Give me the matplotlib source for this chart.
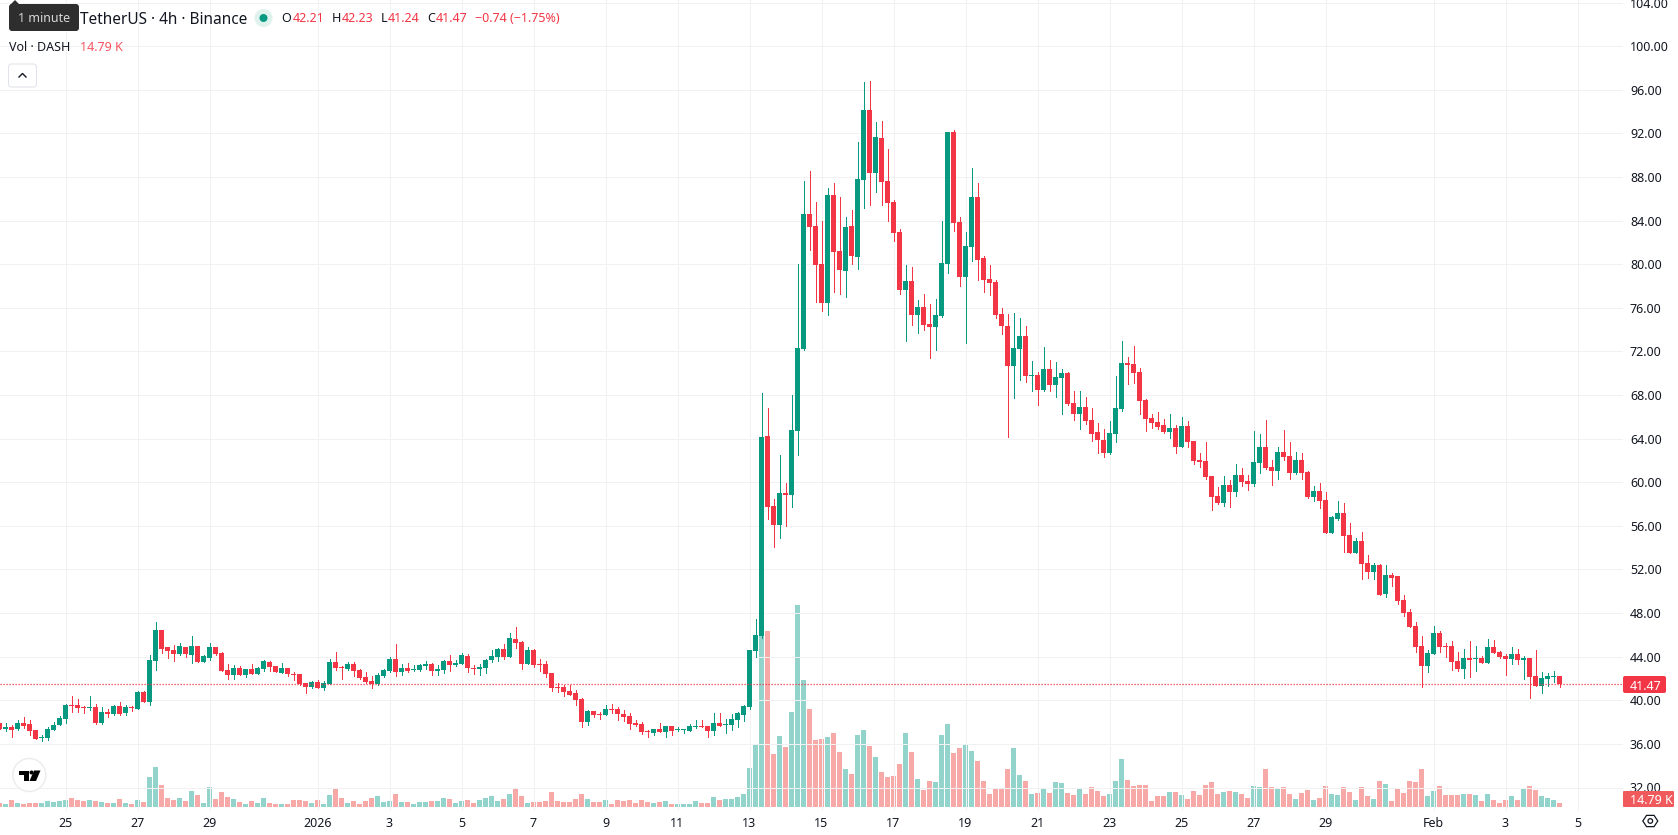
import matplotlib
matplotlib.use("Agg")
import matplotlib.pyplot as plt
import numpy as np
from matplotlib.lines import Line2D
from matplotlib.patches import Circle, FancyBboxPatch, Polygon, Rectangle

plt.rcParams["font.family"] = ["Noto Sans", "DejaVu Sans"]

# DASHUSDT 4h candles, first bar sits 11 bars left of the "25" tick
opens = [
    37.89, 37.40, 37.55, 37.37, 37.92, 37.83, 37.28, 36.57, 36.54, 37.28, 37.74,
    38.29, 39.57, 39.57, 39.42, 39.30, 39.39, 37.89, 38.93, 38.75, 39.48,
    38.84, 39.39, 39.20, 40.76, 39.85, 43.60, 46.45, 44.89, 44.62, 44.25,
    44.89, 44.16, 44.98, 43.52, 43.88, 44.89, 44.34, 42.78, 42.32, 42.97,
    42.32, 42.87, 42.42, 42.87, 43.52, 43.15, 42.51, 42.97, 42.42, 42.42,
    41.56, 41.22, 41.68, 41.13, 41.50, 43.52, 43.09, 42.87, 43.33, 42.78,
    42.14, 41.77, 41.50, 42.23, 42.69, 43.79, 42.60, 42.97, 42.78, 42.78,
    43.15, 43.33, 42.69, 42.78, 43.60, 43.24, 43.33, 44.07, 43.00, 42.87,
    42.97, 43.70, 43.98, 44.71, 43.98, 45.63, 45.35, 43.33, 44.62, 43.33,
    43.33, 42.51, 41.22, 41.22, 40.86, 40.67, 40.12, 38.01, 39.02, 38.78,
    38.65, 39.20, 39.20, 38.75, 38.56, 37.92, 37.83, 37.19, 37.00, 37.37,
    37.09, 37.65, 37.31, 37.28, 37.19, 37.55, 37.65, 37.65, 37.19, 37.92,
    37.77, 37.74, 38.20, 38.65, 39.39, 44.53, 45.90, 64.25, 57.83, 56.08,
    59.02, 58.84, 64.70, 72.23, 84.61, 83.51, 80.03, 76.45, 86.36, 81.22,
    79.38, 83.50, 80.67, 87.73, 94.15, 88.37, 91.58, 87.64, 85.71, 82.96,
    77.64, 78.47, 75.35, 76.08, 74.52, 74.25, 75.26, 80.03, 92.14, 83.88,
    78.84, 81.59, 86.17, 80.57, 78.65, 78.37, 75.44, 74.34, 70.67, 72.23,
    73.42, 69.75, 69.84, 68.46, 70.39, 68.92, 69.57, 70.03, 67.27, 66.27,
    66.90, 65.71, 64.61, 63.87, 62.68, 64.43, 66.72, 70.94, 70.85, 70.12,
    67.55, 65.89, 65.52, 65.25, 64.61, 64.98, 63.23, 65.16, 63.78, 62.04,
    61.95, 60.57, 58.74, 58.10, 59.75, 59.11, 60.66, 60.11, 59.84, 61.77,
    63.23, 61.40, 61.04, 62.78, 62.41, 60.85, 62.04, 60.94, 58.65, 59.20,
    58.38, 55.35, 56.64, 57.19, 55.16, 53.51, 54.61, 52.60, 51.77, 52.41,
    49.75, 51.50, 51.40, 49.20, 48.10, 46.82, 44.98, 43.15, 44.25, 46.17,
    44.98, 44.98, 43.60, 42.87, 43.88, 43.79, 43.88, 43.42, 44.89, 44.43,
    44.06, 43.79, 44.25, 43.70, 43.88, 42.23, 41.31, 41.95, 42.14, 42.21,
]
closes = [
    37.40, 37.55, 37.31, 37.92, 37.65, 37.19, 36.45, 36.64, 37.37, 37.74, 38.38,
    39.57, 39.48, 39.30, 39.33, 39.36, 37.89, 38.93, 38.75, 39.48, 38.75,
    39.39, 39.27, 40.76, 39.85, 43.70, 46.45, 44.70, 44.53, 44.25, 44.98,
    44.25, 44.98, 43.52, 44.07, 44.89, 44.25, 42.69, 42.32, 42.97, 42.32,
    42.87, 42.42, 42.97, 43.60, 43.06, 42.60, 42.97, 42.42, 42.35, 41.50,
    41.22, 41.68, 41.13, 41.56, 43.52, 42.97, 43.00, 43.33, 42.69, 42.05,
    41.68, 41.50, 42.32, 42.78, 43.79, 42.60, 42.97, 42.66, 42.87, 43.24,
    43.33, 42.69, 42.87, 43.60, 43.24, 43.42, 44.16, 42.97, 42.90, 43.06,
    43.70, 44.07, 44.71, 43.98, 45.72, 45.26, 43.33, 44.62, 43.24, 43.24,
    42.42, 41.13, 41.16, 40.76, 40.49, 40.03, 38.01, 39.02, 38.65, 38.68,
    39.20, 39.14, 38.75, 38.47, 37.83, 37.74, 37.09, 37.09, 37.37, 37.09,
    37.65, 37.19, 37.40, 37.37, 37.65, 37.65, 37.55, 37.19, 37.92, 37.65,
    37.83, 38.29, 38.84, 39.48, 44.62, 45.99, 64.15, 57.73, 56.08, 59.02,
    58.84, 64.80, 72.31, 84.61, 83.42, 79.93, 76.45, 86.36, 81.13, 79.47,
    83.41, 80.76, 87.82, 94.15, 88.37, 91.68, 87.55, 85.62, 82.87, 77.64,
    78.47, 75.35, 76.08, 74.43, 74.25, 75.35, 80.12, 92.14, 83.79, 78.84,
    81.68, 86.17, 80.39, 78.55, 78.28, 75.35, 74.34, 70.67, 72.31, 73.42,
    69.75, 69.84, 68.46, 70.39, 68.92, 69.66, 70.03, 67.18, 66.27, 66.90,
    65.62, 64.43, 63.87, 62.68, 64.52, 66.81, 70.94, 70.76, 70.03, 67.46,
    65.80, 65.43, 65.07, 64.61, 64.98, 63.23, 65.16, 63.69, 61.95, 61.86,
    60.48, 58.65, 58.10, 59.75, 59.11, 60.66, 60.02, 59.84, 61.86, 63.23,
    61.31, 61.04, 62.78, 62.32, 60.85, 62.04, 60.85, 58.65, 59.20, 58.28,
    55.35, 56.82, 57.19, 55.07, 53.51, 54.61, 52.50, 51.77, 52.41, 49.66,
    51.50, 51.22, 49.11, 48.01, 46.72, 44.89, 43.15, 44.34, 46.17, 44.89,
    44.89, 43.51, 42.87, 43.88, 43.70, 43.88, 43.42, 44.89, 44.34, 43.97,
    43.79, 44.25, 43.70, 43.88, 42.14, 41.31, 42.05, 42.23, 42.23, 41.47,
]
highs = [
    37.90, 37.89, 37.70, 38.17, 38.47, 38.20, 37.30, 36.82, 37.55, 38.01, 38.56,
    39.66, 40.40, 40.12, 39.48, 40.40, 39.66, 39.39, 39.20, 39.57, 39.85,
    39.57, 39.48, 40.86, 40.86, 44.16, 47.19, 46.45, 44.89, 45.08, 45.26,
    44.89, 45.90, 44.98, 44.16, 45.26, 44.89, 44.43, 43.33, 43.24, 43.15,
    42.88, 43.33, 43.06, 43.70, 43.60, 43.15, 43.42, 42.97, 42.60, 42.42,
    41.56, 41.77, 41.87, 41.77, 43.79, 44.43, 43.15, 43.52, 43.52, 42.87,
    42.60, 42.23, 42.51, 42.87, 43.98, 45.17, 43.33, 43.42, 43.24, 43.33,
    43.60, 43.42, 43.24, 43.70, 44.16, 43.70, 44.34, 44.25, 43.24, 43.33,
    43.79, 44.62, 44.80, 45.17, 46.18, 46.73, 45.44, 44.89, 44.71, 43.79,
    43.60, 42.51, 41.59, 41.41, 41.41, 40.95, 40.21, 39.11, 39.02, 38.93,
    39.57, 39.66, 39.39, 39.11, 38.84, 38.20, 38.01, 37.28, 37.38, 37.92,
    37.66, 37.66, 37.55, 37.38, 37.83, 38.20, 38.20, 37.66, 38.84, 38.84,
    38.29, 38.75, 38.93, 39.57, 44.63, 47.46, 68.19, 66.81, 58.46, 62.50,
    59.93, 68.00, 80.03, 87.64, 88.56, 85.71, 83.96, 87.00, 87.46, 86.17,
    84.33, 84.98, 91.21, 96.72, 96.81, 93.05, 93.14, 90.57, 85.90, 83.24,
    79.93, 79.75, 76.72, 77.27, 76.36, 76.82, 83.96, 92.15, 92.32, 84.33,
    82.96, 88.83, 87.46, 80.75, 79.93, 78.55, 75.98, 75.44, 75.53, 75.06,
    74.34, 71.10, 70.11, 72.41, 71.21, 71.03, 70.39, 70.12, 68.37, 68.37,
    67.82, 66.81, 65.43, 64.89, 65.62, 69.75, 72.96, 71.49, 72.50, 70.48,
    67.64, 66.27, 66.45, 65.80, 66.27, 65.25, 65.98, 65.62, 63.79, 62.69,
    63.69, 60.58, 59.57, 60.57, 60.21, 61.68, 61.31, 60.66, 64.70, 64.43,
    65.71, 62.04, 63.23, 64.80, 63.70, 62.78, 62.69, 61.03, 59.66, 59.93,
    59.11, 56.91, 58.28, 58.10, 56.26, 54.89, 55.44, 53.33, 52.60, 52.50,
    52.41, 51.68, 51.41, 49.66, 48.38, 47.18, 45.90, 44.61, 46.82, 46.36,
    45.26, 45.44, 44.43, 44.70, 45.44, 44.98, 44.07, 45.62, 45.53, 44.52,
    44.25, 44.89, 44.70, 44.07, 43.89, 44.61, 42.60, 42.51, 42.69, 42.23,
]
lows = [
    37.39, 37.20, 36.64, 37.28, 37.49, 36.82, 36.43, 36.27, 36.36, 37.27, 37.73,
    37.92, 38.93, 38.93, 38.84, 39.11, 37.83, 37.83, 38.47, 38.65, 38.65,
    38.65, 39.02, 39.20, 39.85, 39.57, 42.78, 44.34, 43.88, 43.60, 44.16,
    43.98, 43.42, 43.50, 43.50, 43.70, 44.16, 42.68, 41.96, 41.96, 42.31,
    42.14, 42.41, 42.41, 42.69, 42.69, 42.58, 42.50, 42.23, 41.87, 41.41,
    40.67, 41.13, 41.12, 40.95, 41.49, 42.78, 41.96, 42.78, 42.23, 41.96,
    41.59, 41.13, 41.41, 42.14, 42.60, 42.23, 42.32, 42.60, 42.69, 42.69,
    42.87, 42.32, 42.32, 42.51, 42.69, 43.15, 43.32, 42.60, 42.42, 42.32,
    42.51, 43.52, 43.60, 43.79, 43.97, 44.80, 42.87, 43.32, 43.06, 42.69,
    42.14, 40.86, 40.76, 40.40, 40.48, 39.57, 37.55, 37.74, 38.47, 38.29,
    38.64, 38.84, 38.20, 38.10, 37.37, 37.65, 36.91, 36.64, 36.82, 37.08,
    36.64, 36.82, 37.19, 37.00, 37.18, 37.46, 37.54, 36.64, 36.82, 37.64,
    37.00, 37.28, 37.55, 38.10, 39.20, 43.98, 45.72, 56.63, 54.06, 54.89,
    56.00, 57.73, 62.50, 72.14, 81.31, 76.54, 75.71, 75.35, 77.45, 77.27,
    77.00, 80.03, 79.56, 85.16, 85.44, 86.63, 85.44, 83.96, 82.13, 77.27,
    72.96, 74.43, 73.70, 73.97, 71.40, 72.13, 75.16, 79.20, 83.05, 78.00,
    72.78, 80.30, 78.55, 77.45, 77.18, 75.07, 73.61, 64.15, 67.73, 69.38,
    69.20, 68.37, 67.09, 68.37, 68.37, 67.83, 66.27, 67.09, 65.71, 64.89,
    65.34, 63.78, 62.69, 62.32, 62.59, 63.69, 66.54, 69.02, 69.10, 66.27,
    64.70, 64.98, 64.89, 64.52, 64.07, 62.69, 63.22, 63.23, 61.68, 61.40,
    60.30, 57.45, 58.00, 57.82, 57.73, 58.74, 59.66, 59.29, 59.66, 60.85,
    61.22, 59.75, 60.30, 62.04, 60.30, 60.76, 60.30, 58.56, 58.28, 57.64,
    55.34, 55.34, 56.54, 53.60, 53.50, 53.50, 51.13, 51.22, 51.13, 49.65,
    49.48, 50.49, 48.83, 47.74, 46.71, 44.43, 41.22, 42.60, 44.24, 44.43,
    43.97, 42.78, 42.69, 42.05, 42.14, 42.69, 43.41, 43.41, 44.33, 43.88,
    42.32, 43.33, 43.33, 41.95, 40.21, 41.30, 40.67, 41.31, 41.68, 41.24,
]
# volume in thousands of DASH
volumes = [
    14.1, 10.6, 24.7, 14.1, 10.6, 14.1, 14.1, 14.1, 21.1, 17.6, 21.1,
    24.7, 31.7, 24.7, 21.1, 24.7, 21.1, 17.6, 14.1, 14.1, 28.2,
    14.1, 10.6, 24.7, 17.6, 105.7, 140.9, 77.5, 31.7, 24.7, 31.7,
    21.1, 56.4, 42.3, 14.1, 70.4, 28.2, 52.8, 35.2, 28.2, 17.6,
    10.6, 21.1, 14.1, 31.7, 14.1, 10.6, 10.6, 10.6, 24.7, 24.7,
    21.1, 14.1, 24.7, 10.6, 42.3, 63.4, 31.7, 14.1, 21.1, 10.6,
    21.1, 31.7, 38.7, 17.6, 21.1, 45.8, 17.6, 17.6, 10.6, 17.6,
    17.6, 21.1, 21.1, 31.7, 28.2, 14.1, 21.1, 24.7, 14.1, 24.7,
    31.7, 38.7, 21.1, 28.2, 45.8, 63.4, 38.7, 14.1, 17.6, 17.6,
    21.1, 52.8, 21.1, 17.6, 17.6, 28.2, 45.8, 28.2, 17.6, 17.6,
    24.7, 10.6, 24.7, 21.1, 24.7, 14.1, 24.7, 17.6, 14.1, 17.6,
    21.1, 10.6, 10.6, 10.6, 10.6, 21.1, 14.1, 14.1, 35.2, 24.7,
    28.2, 28.2, 35.2, 45.8, 137.4, 221.9, 605.8, 619.9, 186.7, 250.1,
    211.3, 334.6, 711.4, 447.3, 345.2, 236.0, 239.5, 246.5, 260.6, 193.7,
    133.8, 116.2, 253.6, 271.2, 214.8, 176.1, 123.3, 105.7, 109.2, 151.4,
    260.6, 193.7, 98.6, 59.9, 91.6, 88.1, 253.6, 292.3, 190.2, 207.8,
    218.4, 197.2, 162.0, 91.6, 45.8, 66.9, 63.4, 133.8, 207.8, 112.7,
    91.6, 45.8, 49.3, 66.9, 49.3, 88.1, 84.5, 49.3, 42.3, 66.9,
    45.8, 70.4, 56.4, 38.7, 45.8, 91.6, 169.1, 95.1, 74.0, 77.5,
    77.5, 22.3, 37.6, 37.6, 51.7, 51.7, 41.1, 29.4, 55.2, 41.1,
    77.5, 89.2, 44.6, 51.7, 55.2, 51.7, 44.6, 32.9, 74.0, 70.4,
    132.7, 70.4, 66.9, 70.4, 44.6, 29.4, 48.1, 58.7, 25.8, 32.9,
    74.0, 44.6, 41.1, 70.4, 51.7, 25.8, 70.4, 37.6, 29.4, 92.7,
    81.0, 22.3, 66.9, 48.1, 92.7, 89.2, 132.7, 37.6, 55.2, 74.0,
    41.1, 41.1, 41.1, 44.6, 44.6, 41.1, 22.3, 44.6, 25.8, 15.3,
    25.8, 37.6, 25.8, 63.4, 74.0, 58.7, 37.6, 32.9, 25.8, 14.79,
]

first_bar = -11
date_bars = [0, 12, 24, 42, 54, 66, 78, 90, 102, 114, 126, 138, 150, 162, 174, 186, 198, 210, 228, 240, 252]
date_labels = ["25", "27", "29", "2026", "3", "5", "7", "9", "11", "13", "15", "17", "19", "21", "23", "25", "27", "29", "Feb", "3", "5"]
price_ticks = list(range(32, 108, 4))
last_close = 41.47

UP = "#089981"
DOWN = "#F23645"
UP_VOL = "#92D3CB"
DOWN_VOL = "#F7A9A8"
GRID = "#F1F1F1"
TEXT = "#131722"
PX = 0.72  # one pixel in points at dpi 100
FONT = 9.0

W, H = 1678, 835
PANE_W, PANE_H = 1623, 811

fig = plt.figure(figsize=(W / 100, H / 100), dpi=100)
ax = fig.add_axes([0, (H - PANE_H) / H, PANE_W / W, PANE_H / H])
vol_ax = ax.twinx()

bars = np.arange(first_bar, first_bar + len(closes))
o = np.array(opens)
c = np.array(closes)
rising = c >= o
candle_colors = np.where(rising, UP, DOWN)
volume_colors = np.where(rising, UP_VOL, DOWN_VOL)

# bar index 0 is centred on pixel 65.5 and bars are 6 px apart
ax.set_xlim(-65.5 / 6, (PANE_W - 65.5) / 6)
ax.set_ylim(40 + (700.3 - PANE_H) / 10.9, 40 + 700.3 / 10.9)
# 1k of volume is about 0.284 px, baseline 4 px over the pane bottom
vol_ax.set_ylim(-4 / 0.284, (PANE_H - 4) / 0.284)
vol_ax.set_yticks([])

ax.set_xticks(date_bars)
ax.set_xticklabels(date_labels)
ax.set_yticks(price_ticks)
ax.set_yticklabels([f"{p:.2f}" for p in price_ticks])
ax.yaxis.tick_right()
ax.tick_params(axis="y", length=0, pad=5, labelsize=FONT, labelcolor=TEXT)
ax.tick_params(axis="x", length=0, pad=4.5, labelsize=FONT, labelcolor=TEXT)
for lab in ax.get_xticklabels():
    if lab.get_text() == "2026":
        lab.set_fontweight("bold")
ax.grid(True, color=GRID, linewidth=PX)
ax.set_axisbelow(True)
for spine in list(ax.spines.values()) + list(vol_ax.spines.values()):
    spine.set_visible(False)

# volume goes under the candles, so the price axes sit on top
vol_ax.set_zorder(1)
ax.set_zorder(2)
ax.patch.set_visible(False)
vol_ax.patch.set_facecolor("white")
vol_ax.bar(bars, volumes, width=5 / 6, color=volume_colors, linewidth=0, antialiased=False)

ax.vlines(bars, lows, highs, colors=candle_colors, linewidth=PX, antialiased=False, zorder=3)
ax.bar(bars, np.abs(c - o), bottom=np.minimum(o, c), width=5 / 6, color=candle_colors,
       linewidth=0, antialiased=False, zorder=4)
ax.axhline(last_close, color=DOWN, linewidth=0.9, linestyle=(0, (1, 1.4)), zorder=5)

# header, tags and buttons are laid out in pixels on a top layer
ui = fig.add_axes([0, 0, 1, 1], zorder=5)
ui.set_xlim(0, W)
ui.set_ylim(H, 0)
ui.axis("off")


def label(x, y, s, color=TEXT, size=FONT, ha="left"):
    ui.text(x, y, s, color=color, fontsize=size, ha=ha, va="center_baseline")


# legend rows
label(80.5, 17.5, "TetherUS · 4h · Binance", size=11.1)
ui.add_patch(Circle((263.5, 18), 9, color="#DFF2EE", linewidth=0))
ui.add_patch(Circle((263.5, 18), 4, color=UP, linewidth=0))
for x, s, col in [(281.5, "O", TEXT), (293, "42.21", DOWN), (332, "H", TEXT), (341.5, "42.23", DOWN),
                  (381, "L", TEXT), (388, "41.24", DOWN), (427, "C", TEXT), (436, "41.47", DOWN),
                  (475, "−0.74 (−1.75%)", DOWN)]:
    label(x, 17.5, s, col)
label(9, 46, "Vol · DASH")
label(80.5, 46, "14.79 K", "#F7525F")

# tooltip over the start of the title
ui.add_patch(Polygon([(10, 5), (15, 0), (20, 5)], color="#2E2E2E", linewidth=0))
ui.add_patch(FancyBboxPatch((11, 6), 66, 23, boxstyle="round,pad=2,rounding_size=3", color="#2E2E2E", linewidth=0))
label(18, 17.5, "1 minute", "#D8D8D8")

# collapse button
ui.add_patch(FancyBboxPatch((9.5, 65), 26, 21, boxstyle="round,pad=1,rounding_size=3", facecolor="white",
                            edgecolor="#E0E3EB", linewidth=PX))
ui.add_line(Line2D([19, 22.5, 26], [77, 73.5, 77], color=TEXT, linewidth=1.0))

# price and volume tags on the right scale
ui.add_patch(FancyBboxPatch((1623, 676), 43, 17, boxstyle="round,pad=0,rounding_size=2", color=DOWN, linewidth=0))
label(1630, 684.5, "41.47", "white")
ui.add_patch(FancyBboxPatch((1623, 791), 51, 16, boxstyle="round,pad=0,rounding_size=1", color="#F05A5C", linewidth=0))
label(1630, 799, "14.79 K", "white")

# settings hexagon under the scale
a = np.deg2rad(np.arange(0, 360, 60))
ui.add_patch(Polygon(np.c_[1650.3 + 7.5 * np.cos(a), 821 + 6.5 * np.sin(a)], closed=True, fill=False,
                     edgecolor=TEXT, linewidth=0.9))
ui.add_patch(Circle((1650.3, 821), 2.3, fill=False, edgecolor=TEXT, linewidth=0.9))

# TradingView mark
ui.add_patch(Circle((29.3, 775), 16.5, facecolor="white", edgecolor="#EBEBEB", linewidth=1.0))
ui.add_patch(Polygon([(19, 770.5), (29, 770.5), (29, 781), (24, 781), (24, 774.5), (19, 774.5)], color="black", linewidth=0))
ui.add_patch(Circle((31.5, 772.5), 2, color="black", linewidth=0))
ui.add_patch(Polygon([(34, 770.5), (40.5, 770.5), (36, 781), (29.5, 781)], color="black", linewidth=0))

fig.savefig("out.png", dpi=100, facecolor="white")
